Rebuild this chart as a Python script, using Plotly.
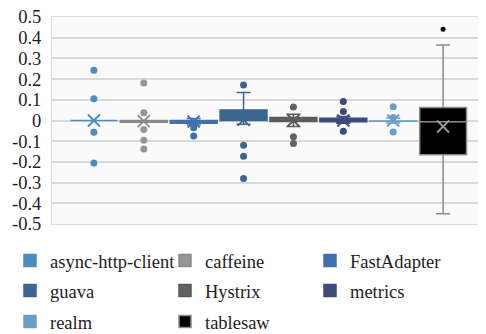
import plotly.graph_objects as go

categories = ["async-http-client", "caffeine", "FastAdapter", "guava",
              "Hystrix", "metrics", "realm", "tablesaw"]
q1 = [0.0, -0.008, -0.013, 0.0, -0.005, -0.006, -0.004, -0.165]
median = [0.0, -0.004, -0.008, 0.0, 0.0, -0.002, -0.003, -0.006]
q3 = [0.0, 0.0, 0.0, 0.051, 0.014, 0.011, -0.002, 0.063]
lowerfence = [0.0, -0.008, -0.022, -0.018, -0.029, -0.013, -0.012, -0.451]
upperfence = [0.0, 0.0, 0.01, 0.135, 0.03, 0.019, 0.012, 0.365]
means = [0.0, -0.003, -0.005, 0.003, 0.0, 0.0, 0.0, -0.029]
outliers = [
    [0.243, 0.105, -0.057, -0.205],
    [0.181, 0.037, -0.043, -0.095, -0.138],
    [-0.035, -0.075],
    [0.171, -0.119, -0.173, -0.28],
    [0.065, -0.079, -0.111],
    [0.092, 0.044, -0.052],
    [0.067, 0.014, -0.056],
    [0.441],
]
fill_colors = ["#4f8bbd", "#969696", "#4170ab", "#3a6690",
               "#616161", "#3b4b7c", "#6a9ec9", "#000000"]
line_colors = ["#4f8bbd", "#8a8a8a", "#4170ab", "#3a6690",
               "#5a5a5a", "#3b4b7c", "#6a9ec9", "#8c8c8c"]
mean_colors = ["#4f8bbd", "#8a8a8a", "#4170ab", "#3a6690",
               "#5a5a5a", "#3b4b7c", "#6a9ec9", "#9a9a9a"]
tick_vals = [0.5, 0.4, 0.3, 0.2, 0.1, 0, -0.1, -0.2, -0.3, -0.4, -0.5]
tick_text = ["0.5", "0.4", "0.3", "0.2", "0.1", "0", "-0.1", "-0.2", "-0.3", "-0.4", "-0.5"]

SERIF = "Liberation Serif"
FS = 18.5
W, H = 478, 326  # page body has an 8px margin
# legend placement (figure pixels): text left x, row centre y
legend_cols = [2, 157, 302]
legend_rows = [253, 283, 314]
legend_names = ["legend", "legend2", "legend3", "legend4",
                "legend5", "legend6", "legend7", "legend8"]

fig = go.Figure()
for i, name in enumerate(categories):
    fig.add_trace(go.Box(
        x=[name], q1=[q1[i]], median=[median[i]], q3=[q3[i]],
        lowerfence=[lowerfence[i]], upperfence=[upperfence[i]],
        name=name, width=0.94, whiskerwidth=0.3,
        fillcolor=fill_colors[i], line=dict(color=line_colors[i], width=1.5),
        boxpoints=False, hoverinfo="skip", showlegend=True,
        legend=legend_names[i],
    ))
for i, name in enumerate(categories):
    fig.add_trace(go.Scatter(
        x=[name] * len(outliers[i]), y=outliers[i], mode="markers",
        marker=dict(color=fill_colors[i], size=5 if i == 7 else 7),
        showlegend=False, hoverinfo="skip",
    ))
    fig.add_trace(go.Scatter(
        x=[name], y=[means[i]], mode="markers",
        marker=dict(symbol="x-thin", size=12,
                    line=dict(color=mean_colors[i], width=1.8)),
        showlegend=False, hoverinfo="skip",
    ))

legends = {}
for i, lname in enumerate(legend_names):
    col = legend_cols[i % 3]
    row = legend_rows[i // 3]
    legends[lname] = dict(
        orientation="h", xref="container", yref="container",
        x=col / W, y=1 - row / H, xanchor="left", yanchor="middle",
        font=dict(family=SERIF, size=FS, color="#222222"),
        bgcolor="rgba(0,0,0,0)",
    )

fig.update_layout(
    width=W, height=H,
    margin=dict(l=44, r=1, t=9, b=110, autoexpand=False),
    paper_bgcolor="#ffffff", plot_bgcolor="#fafafa",
    boxmode="overlay",
    font=dict(family=SERIF, size=FS, color="#222222"),
    xaxis=dict(range=[-0.84, 7.84], showticklabels=False, showgrid=False,
               showline=True, mirror=True, linecolor="#dcdcdc", linewidth=1,
               zeroline=False, categoryorder="array", categoryarray=categories,
               automargin=False),
    yaxis=dict(range=[-0.5, 0.5], tickvals=tick_vals, ticktext=tick_text,
               showgrid=True, gridcolor="#d9d9d9", gridwidth=1.5,
               zeroline=False, showline=True, mirror=True, linecolor="#dcdcdc",
               ticks="", automargin=False, ticklabelstandoff=6,
               ticklabeloverflow="allow",
               tickfont=dict(family=SERIF, size=FS, color="#222222")),
    **legends,
)
fig.write_html("out.html")
